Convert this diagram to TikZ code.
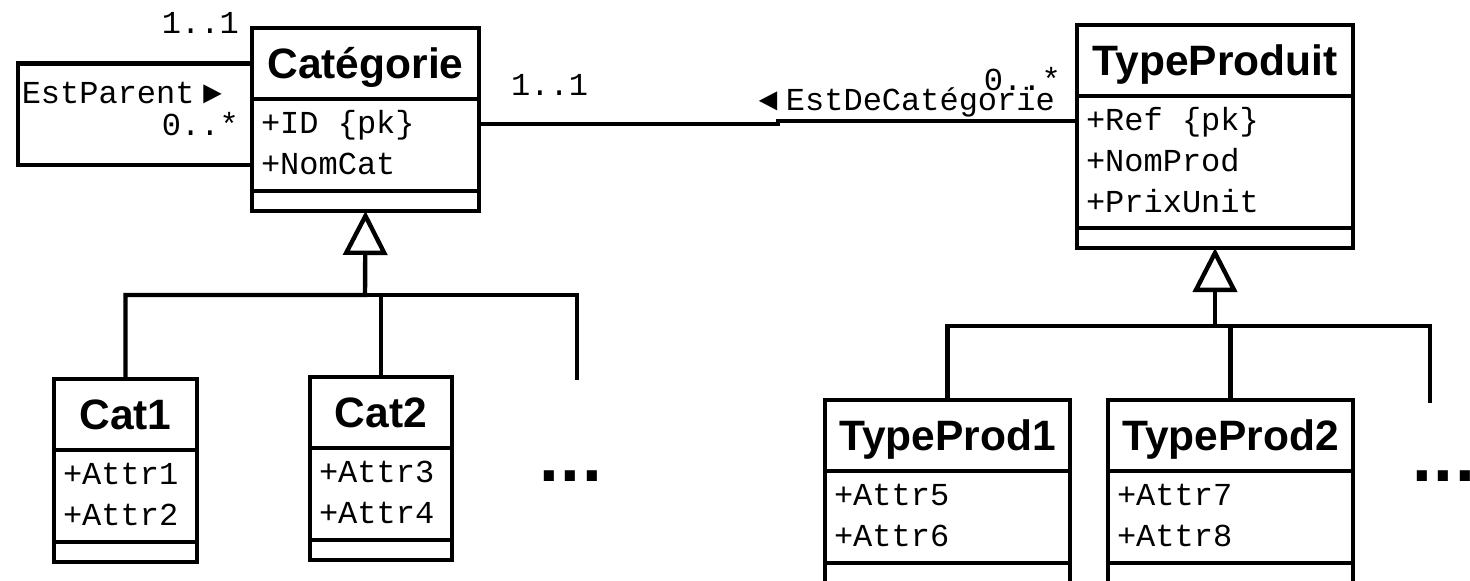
\documentclass[tikz,border=0pt]{standalone}
\usepackage{fontspec}
\setmainfont{Liberation Sans}
\setmonofont{Liberation Mono}[WordSpace={1,0,0}]
\newfontfamily\dotsfont{DejaVu Sans}
\usetikzlibrary{positioning,arrows.meta}

\begin{document}
\begin{tikzpicture}[
x=1pt, y=-1pt,
line width=4.4pt,
classname/.style={
rectangle,
draw=black,
outer sep=0pt,
inner sep=0pt,
anchor=north west,
font=\fontsize{42.5}{50}\selectfont\bfseries,
text height=30pt,
text depth=0pt,
minimum height=71pt
},
attrs/.style={
rectangle,
draw=black,
outer sep=0pt,
inner xsep=9pt,
inner ysep=0pt,
align=left,
font=\ttfamily\fontsize{32}{41}\selectfont,
text height=34pt,
text depth=#1
},
attrs/.default=58pt,
ops/.style={
rectangle,
draw=black,
outer sep=0pt,
inner sep=0pt,
minimum height=20pt
},
role/.style={
inner sep=0pt,
font=\ttfamily\fontsize{32}{41}\selectfont
},
more/.style={
inner sep=0pt,
anchor=base west,
font=\dotsfont\bfseries\fontsize{57}{60}\selectfont
}
]
\useasboundingbox (0,0) rectangle (1470,581);
\clip (0,0) rectangle (1470,581);

% Categorie
\node[classname, minimum width=227pt] (cat) at (252,28) {Catégorie};
\node[attrs, text width=209pt, below=0pt of cat] (catattr) {+ID\hspace{0.6em}\char`\{pk\char`\}\\+NomCat};
\node[ops, minimum width=227pt, below=0pt of catattr] (catops) {};

% TypeProduit
\node[classname, minimum width=276pt] (tp) at (1077,25) {TypeProduit};
\node[attrs=98pt, text width=258pt, below=0pt of tp] (tpattr) {+Ref\hspace{0.6em}\char`\{pk\char`\}\\+NomProd\\+PrixUnit};
\node[ops, minimum width=276pt, below=0pt of tpattr] (tpops) {};

% sub categories
\node[classname, minimum width=143pt] (cat1) at (54,379) {Cat1};
\node[attrs, text width=125pt, below=0pt of cat1] (cat1attr) {+Attr1\\+Attr2};
\node[ops, minimum width=143pt, below=0pt of cat1attr] (cat1ops) {};

\node[classname, minimum width=142pt] (cat2) at (310,377) {Cat2};
\node[attrs, text width=124pt, below=0pt of cat2] (cat2attr) {+Attr3\\+Attr4};
\node[ops, minimum width=142pt, below=0pt of cat2attr] (cat2ops) {};

\node[more] (catdots) at (536,481) {...};

% sub product types
\node[classname, minimum width=245pt] (tp1) at (825,400) {TypeProd1};
\node[attrs, text width=227pt, below=0pt of tp1] (tp1attr) {+Attr5\\+Attr6};
\node[ops, minimum width=245pt, below=0pt of tp1attr] (tp1ops) {};

\node[classname, minimum width=245pt] (tp2) at (1108,400) {TypeProd2};
\node[attrs, text width=227pt, below=0pt of tp2] (tp2attr) {+Attr7\\+Attr8};
\node[ops, minimum width=245pt, below=0pt of tp2attr] (tp2ops) {};

\node[more] (tpdots) at (1409,481) {...};

% association labels
\node[role, anchor=base east] (rolesup) at (241,33) {1..1};
\node[role, anchor=base east] (parentname) at (224,103) {EstParent\hspace{8pt}►};
\node[role, anchor=base east] (rolesub) at (241,135) {0..*};
\node[role, anchor=base west] (rolecat) at (509,95) {1..1};
\node[role, anchor=base east] (assocname) at (1057,110) {◄\hspace{8pt}EstDeCatégorie};
\node[role, anchor=base east] (roletp) at (1063,90) {0..*};

% associations
\draw (cat.west) -- ++(-234,0) |- ([yshift=-20pt]catattr.west);
\draw ([yshift=21pt]catattr.east) -- ++(299,0) |- ([yshift=41pt]tpattr.west);

% generalisations
\coordinate (catjoin) at (365,295);
\coordinate (catend) at (577,380);
\draw[-{Triangle[open, length=44pt, width=44pt]}] (cat1.north) |- (catjoin) -- (catops.south);
\draw (cat2.north) |- (catjoin);
\draw (catend) |- (catjoin);

\coordinate (tpjoin) at (1215,326);
\coordinate (tpend) at (1430,403);
\draw[-{Triangle[open, length=44pt, width=44pt]}] (tp1.north) |- (tpjoin) -- (tpops.south);
\draw (tp2.north) |- (tpjoin);
\draw (tpend) |- (tpjoin);

\end{tikzpicture}
\end{document}
